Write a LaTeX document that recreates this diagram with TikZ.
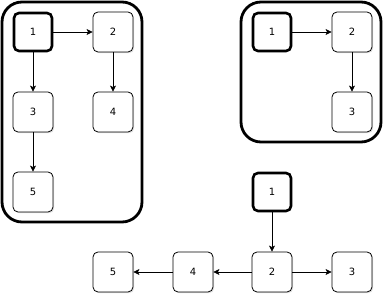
\documentclass[tikz,border=0pt]{standalone}
\usepackage{fontspec}
\setmainfont{DejaVu Sans}
\usetikzlibrary{arrows.meta,shadows}

\begin{document}
\begin{tikzpicture}[x=1pt,y=-1pt,
    box/.style={draw,fill=white,rounded corners=5pt,minimum size=40pt,inner sep=0pt,
      line width=0.8pt,font=\fontsize{10}{12}\selectfont,
      drop shadow={shadow xshift=1.2pt,shadow yshift=-1.2pt,opacity=0.25}},
    root/.style={box,line width=2.6pt,minimum size=38pt},
    group/.style={draw,line width=2.8pt,rounded corners=20pt},
    link/.style={-{Stealth[length=6pt,width=6pt,inset=1.5pt]},line width=0.7pt}]

\useasboundingbox (0,0) rectangle (384,296);

% left group
\draw[group] (2,2) rectangle (142,222);
\node[root] (a1) at (33,32) {1};
\node[box] (a2) at (113,32) {2};
\node[box] (a3) at (33,112) {3};
\node[box] (a4) at (113,112) {4};
\node[box] (a5) at (33,192) {5};

\draw[link] (a1) -- (a2);
\draw[link] (a1) -- (a3);
\draw[link] (a2) -- (a4);
\draw[link] (a3) -- (a5);

% right group
\draw[group] (241,2) rectangle (381,142);
\node[root] (b1) at (272,32) {1};
\node[box] (b2) at (352,32) {2};
\node[box] (b3) at (352,112) {3};

\draw[link] (b1) -- (b2);
\draw[link] (b2) -- (b3);

% bottom
\node[root] (c1) at (272,192) {1};
\node[box] (c2) at (272,272) {2};
\node[box] (c3) at (352,272) {3};
\node[box] (c4) at (193,272) {4};
\node[box] (c5) at (113,272) {5};

\draw[link] (c1) -- (c2);
\draw[link] (c2) -- (c3);
\draw[link] (c2) -- (c4);
\draw[link] (c4) -- (c5);
\end{tikzpicture}
\end{document}
